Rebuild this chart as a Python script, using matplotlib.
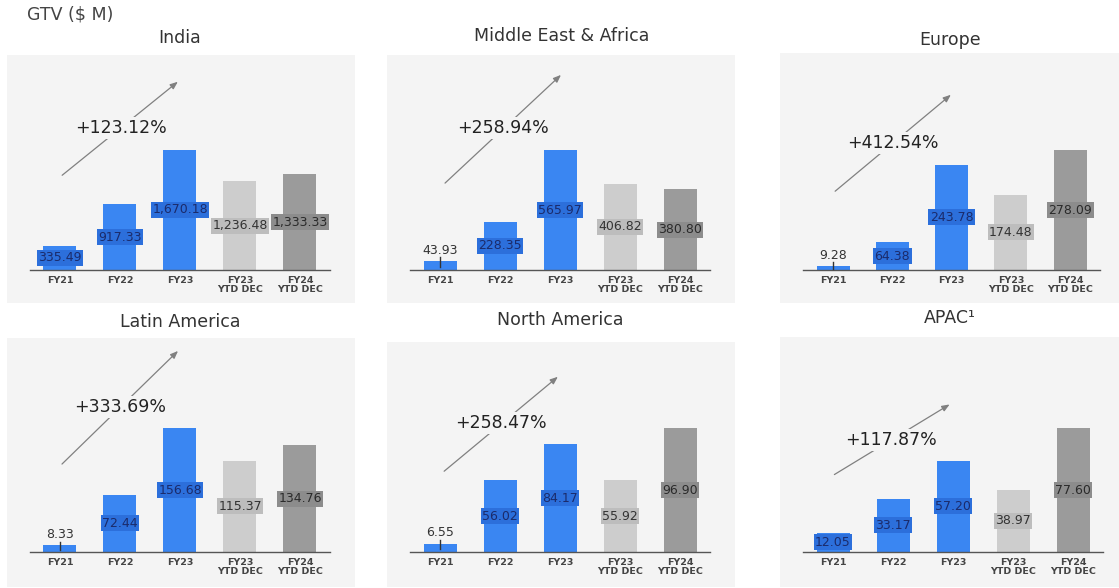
import matplotlib
matplotlib.use("Agg")
import matplotlib.pyplot as plt

# GTV ($ M) by region
categories = ["FY21", "FY22", "FY23", "FY23\nYTD DEC", "FY24\nYTD DEC"]
regions = ["India", "Middle East & Africa", "Europe",
           "Latin America", "North America", "APAC\u00b9"]
india = [335.49, 917.33, 1670.18, 1236.48, 1333.33]
mea = [43.93, 228.35, 565.97, 406.82, 380.80]
europe = [9.28, 64.38, 243.78, 174.48, 278.09]
latam = [8.33, 72.44, 156.68, 115.37, 134.76]
north_america = [6.55, 56.02, 84.17, 55.92, 96.90]
apac = [12.05, 33.17, 57.20, 38.97, 77.60]
growth = ["+123.12%", "+258.94%", "+412.54%", "+333.69%", "+258.47%", "+117.87%"]
value_labels = [
    ["335.49", "917.33", "1,670.18", "1,236.48", "1,333.33"],
    ["43.93", "228.35", "565.97", "406.82", "380.80"],
    ["9.28", "64.38", "243.78", "174.48", "278.09"],
    ["8.33", "72.44", "156.68", "115.37", "134.76"],
    ["6.55", "56.02", "84.17", "55.92", "96.90"],
    ["12.05", "33.17", "57.20", "38.97", "77.60"],
]
series = [india, mea, europe, latam, north_america, apac]

W, H = 1119, 588
BLUE, LGRAY, DGRAY = "#3a86f2", "#cdcdcd", "#9b9b9b"
bar_colors = [BLUE, BLUE, BLUE, LGRAY, DGRAY]
box_colors = ["#2c6fdb", "#2c6fdb", "#2c6fdb", "#bdbdbd", "#8c8c8c"]
txt_colors = ["#1b2b6b", "#1b2b6b", "#1b2b6b", "#333333", "#2a2a2a"]
PANEL_BG = "#f4f4f4"

# panel boxes in pixels: left, top, right, bottom
panels = [(7, 55, 355, 303), (387, 55, 735, 303), (780, 53, 1119, 303),
          (7, 338, 355, 587), (387, 342, 735, 587), (780, 337, 1119, 587)]
title_pos = [(180, 38), (562, 36), (950, 40), (180, 322), (560, 320), (950, 318)]
arrows = [((60, 177), (180, 80)), ((443, 185), (563, 73)), ((833, 193), (953, 93)),
          ((60, 466), (180, 349)), ((442, 473), (560, 375)), ((832, 476), (952, 403))]
pct_pos = [(121, 128), (503, 128), (893, 143), (120, 407), (501, 423), (891, 440)]

fig = plt.figure(figsize=(W / 100, H / 100), dpi=100)
fig.patch.set_facecolor("white")
fig.text(27 / W, 1 - 15 / H, "GTV ($ M)", fontsize=12.5, color="#444444", va="center")

for k, vals in enumerate(series):
    l, t, r, b = panels[k]
    pw, ph = r - l, b - t
    ax = fig.add_axes([l / W, 1 - b / H, pw / W, ph / H])
    ax.set_facecolor(PANEL_BG)
    for s in ax.spines.values():
        s.set_visible(False)
    ax.set_xticks([])
    ax.set_yticks([])

    base = 33 if k < 3 else 35
    maxh = 120 if k < 3 else 124
    step = 60 if k != 2 else 59.3
    vmax = max(vals)
    ax.set_ylim(-base * vmax / maxh, (ph - base) * vmax / maxh)
    ax.set_xlim(-53 / step, (pw - 53) / step)

    x = list(range(len(categories)))
    ax.bar(x, vals, width=33 / step, color=bar_colors, zorder=2)
    ax.plot([-0.5, 4.5], [0, 0], color="#555555", lw=1, zorder=3)
    for i, c in enumerate(categories):
        ax.annotate(c, (i, 0), xytext=(0, -4), textcoords="offset points", ha="center",
                    va="top", fontsize=6.8, color="#444444", linespacing=1.1,
                    fontweight="semibold")

    for i, v in enumerate(vals):
        if v / vmax < 0.1:
            ax.plot([i, i], [v * 0.3, v + vmax * 0.03], color="#333333", lw=1, zorder=4)
            ax.annotate(value_labels[k][i], (i, v), xytext=(0, 3), textcoords="offset points",
                        ha="center", va="bottom", fontsize=9, color="#333333", zorder=5)
        else:
            ax.text(i, v / 2, value_labels[k][i], ha="center", va="center", fontsize=9,
                    color=txt_colors[i], zorder=5,
                    bbox=dict(boxstyle="square,pad=0.12", fc=box_colors[i], ec="none"))

    (x0, y0), (x1, y1) = arrows[k]
    ax.annotate("", xy=((x1 - l) / pw, (b - y1) / ph), xytext=((x0 - l) / pw, (b - y0) / ph),
                xycoords="axes fraction", textcoords="axes fraction",
                arrowprops=dict(arrowstyle="-|>,head_length=0.45,head_width=0.18",
                                color="#808080", lw=0.9), zorder=3)
    px, py = pct_pos[k]
    ax.text((px - l) / pw, (b - py) / ph, growth[k], transform=ax.transAxes, ha="center",
            va="center", fontsize=12.5, color="#222222", zorder=6,
            bbox=dict(boxstyle="square,pad=0.1", fc=PANEL_BG, ec="none"))

    tx, ty = title_pos[k]
    fig.text(tx / W, 1 - ty / H, regions[k], ha="center", va="center", fontsize=12.5,
             color="#333333")

fig.savefig("out.png", dpi=100, facecolor="white")
